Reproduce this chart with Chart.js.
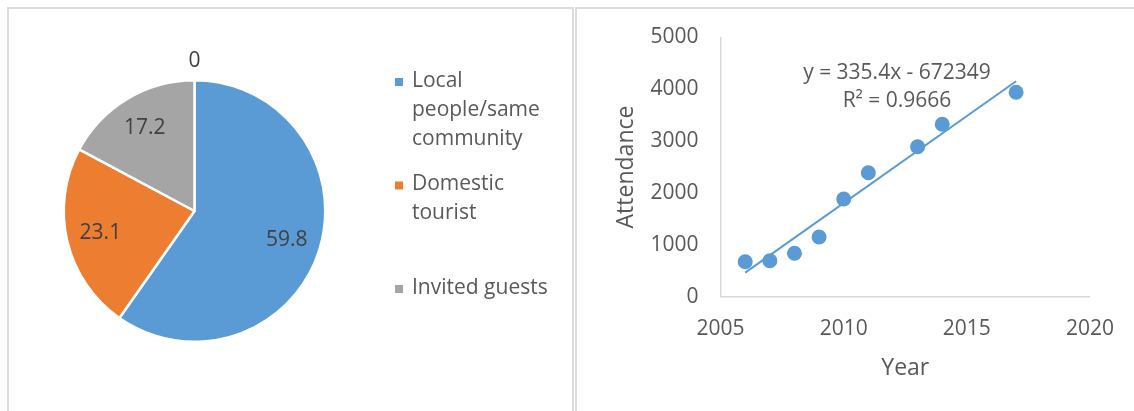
<!DOCTYPE html>
<html>
<head>
<meta charset="utf-8">
<script src="https://cdn.jsdelivr.net/npm/chart.js@4.4.0/dist/chart.umd.min.js"></script>
<style>
  html, body { margin: 0; padding: 0; background: #fff; width: 1134px; height: 411px; overflow: hidden; }
  .frame { position: absolute; box-sizing: border-box; border: 0 solid #dcdcdc; }
  #leftFrame { left: 7px; top: 7px; width: 567px; height: 420px; border-width: 2px 2px 0 2px; }
  #rightFrame { left: 575px; top: 7px; width: 570px; height: 420px; border-width: 2px 0 0 2px; }
  canvas { position: absolute; }
</style>
</head>
<body>
<div class="frame" id="leftFrame"></div>
<div class="frame" id="rightFrame"></div>
<canvas id="pie" width="570" height="411" style="left:0;top:0;width:570px;height:411px"></canvas>
<canvas id="scatter" width="556" height="402" style="left:578px;top:9px;width:556px;height:402px"></canvas>
<script>
// ---- Visitor origin (pie) ----
const categories = ['Local people/same community', 'Domestic tourist', 'Invited guests', ''];
const shares = [59.8, 23.1, 17.2, 0];
const sliceColors = ['#5B9BD5', '#ED7D31', '#A5A5A5', '#FFC000'];

// ---- Attendance by year (scatter + linear trend) ----
const years = [2006, 2007, 2008, 2009, 2010, 2011, 2013, 2014, 2017];
const attendance = [675, 694, 837, 1151, 1883, 2390, 2891, 3323, 3940];
const trendSlope = 335.4;
const trendIntercept = -672349;
const trendR2 = 0.9666;
const xTicks = [2005, 2010, 2015, 2020];
const yTicks = [0, 1000, 2000, 3000, 4000, 5000];

const FONT = "'Open Sans', 'Noto Sans', sans-serif";
const TEXT = '#595959';
const LABEL_TEXT = '#404040';
const AXIS_LINE = '#d9d9d9';

// Value labels inside each slice, zero slices just outside the rim
const sliceLabels = {
  id: 'sliceLabels',
  afterDatasetsDraw(chart) {
    const ctx = chart.ctx;
    const meta = chart.getDatasetMeta(0);
    const values = chart.data.datasets[0].data;
    ctx.save();
    ctx.font = '21px ' + FONT;
    ctx.fillStyle = LABEL_TEXT;
    ctx.textAlign = 'center';
    ctx.textBaseline = 'middle';
    meta.data.forEach((arc, i) => {
      const p = arc.getProps(['x', 'y', 'startAngle', 'endAngle', 'outerRadius'], true);
      const mid = (p.startAngle + p.endAngle) / 2;
      const r = values[i] === 0 ? p.outerRadius + 19 : p.outerRadius * 0.74;
      ctx.fillText(String(values[i]), p.x + Math.cos(mid) * r, p.y + Math.sin(mid) * r);
    });
    ctx.restore();
  }
};

// Legend on the right side of the pie, one evenly spaced slot per entry
const sideLegend = {
  id: 'sideLegend',
  afterDraw(chart) {
    const ctx = chart.ctx;
    const colors = chart.data.datasets[0].backgroundColor;
    const left = 395, textX = 412, firstY = 81, slot = 103.5, lineGap = 29, maxW = 140;
    ctx.save();
    ctx.font = '21px ' + FONT;
    ctx.textBaseline = 'middle';
    ctx.textAlign = 'left';
    let slotIndex = 0;
    chart.data.labels.forEach((name, i) => {
      if (!name) return;
      const words = name.split(' ');
      const lines = [];
      let cur = '';
      words.forEach(w => {
        const test = cur ? cur + ' ' + w : w;
        if (cur && ctx.measureText(test).width > maxW) { lines.push(cur); cur = w; }
        else cur = test;
      });
      if (cur) lines.push(cur);
      const y0 = firstY + slotIndex * slot;
      ctx.fillStyle = colors[i];
      ctx.fillRect(left, y0 - 3, 8, 8);
      ctx.fillStyle = TEXT;
      lines.forEach((ln, k) => ctx.fillText(ln, textX, y0 + k * lineGap));
      slotIndex++;
    });
    ctx.restore();
  }
};

new Chart(document.getElementById('pie'), {
  type: 'pie',
  data: {
    labels: categories,
    datasets: [{
      data: shares,
      backgroundColor: sliceColors,
      borderColor: '#ffffff',
      borderWidth: 2.5
    }]
  },
  options: {
    responsive: false,
    animation: false,
    devicePixelRatio: 1,
    layout: { padding: { left: 62.5, right: 243.5, top: 79, bottom: 68 } },
    plugins: { legend: { display: false }, tooltip: { enabled: false } }
  },
  plugins: [sliceLabels, sideLegend]
});

// Trendline equation and R² above the fitted line
const trendText = {
  id: 'trendText',
  afterDraw(chart) {
    const ctx = chart.ctx;
    const sign = trendIntercept < 0 ? ' - ' : ' + ';
    ctx.save();
    ctx.font = '21px ' + FONT;
    ctx.fillStyle = TEXT;
    ctx.textAlign = 'center';
    ctx.textBaseline = 'middle';
    ctx.fillText('y = ' + trendSlope + 'x' + sign + Math.abs(trendIntercept), 319, 64);
    ctx.fillText('R\u00B2 = ' + trendR2.toFixed(4), 319, 92.5);
    ctx.restore();
  }
};

const trendAt = x => trendSlope * x + trendIntercept;
const firstYear = years[0], lastYear = years[years.length - 1];

new Chart(document.getElementById('scatter'), {
  type: 'scatter',
  data: {
    datasets: [
      {
        label: 'Attendance',
        data: years.map((y, i) => ({ x: y, y: attendance[i] })),
        backgroundColor: '#5B9BD5',
        borderWidth: 0,
        pointRadius: 7.5
      },
      {
        type: 'line',
        label: 'Linear trend',
        data: [{ x: firstYear, y: trendAt(firstYear) }, { x: lastYear, y: trendAt(lastYear) }],
        borderColor: '#5B9BD5',
        borderWidth: 2,
        pointRadius: 0,
        fill: false
      }
    ]
  },
  options: {
    responsive: false,
    animation: false,
    devicePixelRatio: 1,
    layout: { autoPadding: false, padding: { left: 0, right: 43.4, top: 28.3, bottom: 0 } },
    plugins: { legend: { display: false }, tooltip: { enabled: false } },
    scales: {
      x: {
        type: 'linear',
        min: xTicks[0],
        max: xTicks[xTicks.length - 1],
        afterBuildTicks: s => { s.ticks = xTicks.map(v => ({ value: v })); },
        grid: { display: false, drawTicks: false },
        border: { display: true, color: AXIS_LINE, width: 1.5 },
        ticks: { color: TEXT, font: { family: FONT, size: 21 }, padding: 20, maxRotation: 0, callback: v => String(v) },
        title: { display: true, text: 'Year', color: TEXT, font: { family: FONT, size: 23 }, padding: { top: 0, bottom: 29 } },
        afterFit: s => { s.height = 114.3; }
      },
      y: {
        min: yTicks[0],
        max: yTicks[yTicks.length - 1],
        afterBuildTicks: s => { s.ticks = yTicks.map(v => ({ value: v })); },
        grid: { display: false, drawTicks: false },
        border: { display: true, color: AXIS_LINE, width: 1.5 },
        ticks: { color: TEXT, font: { family: FONT, size: 21 }, padding: 22, callback: v => String(v) },
        title: { display: true, text: 'Attendance', color: TEXT, font: { family: FONT, size: 23 }, padding: { top: 35, bottom: 0 } },
        // fixed axis box; the outer layout padding already leaves room for the end labels
        afterFit: s => { s.width = 142.6; s.paddingTop = 0; s.paddingBottom = 0; }
      }
    }
  },
  plugins: [trendText]
});
</script>
</body>
</html>
